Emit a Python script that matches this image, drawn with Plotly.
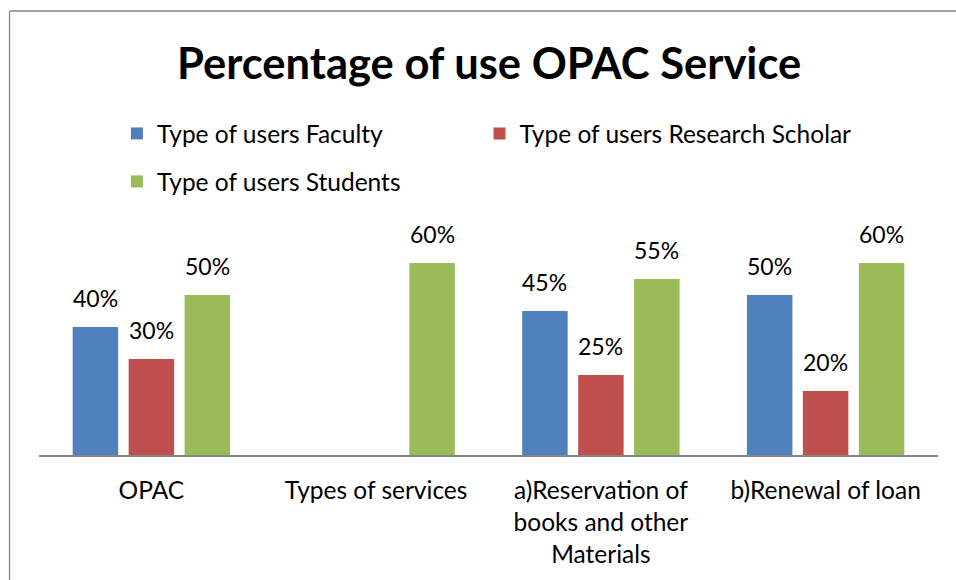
import plotly.graph_objects as go

# Chart data
categories = ["OPAC", "Types of services", "a)Reservation of<br>books and other<br>Materials", "b)Renewal of loan"]
faculty = [40, None, 45, 50]
research_scholar = [30, None, 25, 20]
students = [50, 60, 55, 60]

series_names = ["Type of users Faculty", "Type of users Research Scholar", "Type of users Students"]
colors = ["#4F81BD", "#C0504D", "#9BBB59"]
legend_ids = ["legend", "legend3", "legend2"]

FONT = "Lato"
W, H = 956, 580
ML, MR, MT, MB = 38.5, 17.5, 231, 125
plot_w = W - ML - MR
plot_h = H - MT - MB
BARGAP = 0.253

fig = go.Figure()
all_series = [faculty, research_scholar, students]
for name, vals, col, lg in zip(series_names, all_series, colors, legend_ids):
    fig.add_trace(go.Bar(
        x=categories, y=vals, name=name, marker_color=col,
        marker_line_width=0, legend=lg,
    ))

# value labels above each bar
cat_w = plot_w / len(categories)
slot = cat_w * (1 - BARGAP) / 3
annotations = []
for i, vals in enumerate(all_series):
    offset = (i - 1) * slot
    for cat, v in zip(categories, vals):
        if v is None:
            continue
        annotations.append(dict(
            x=cat, y=v, xref="x", yref="y", text=f"{v}%", showarrow=False,
            xshift=offset, yshift=13, yanchor="bottom",
            font=dict(family=FONT, size=23, color="#000000"),
        ))

# title
annotations.append(dict(
    x=0.5, y=1 + (MT - 62) / plot_h, xref="paper", yref="paper",
    text="<b>Percentage of use OPAC Service</b>", showarrow=False,
    xanchor="center", yanchor="middle",
    font=dict(family=FONT, size=43.5, color="#000000"),
))

def px_x(p):
    return (p - ML) / plot_w

def px_y(p):
    return 1 + (MT - p) / plot_h

shapes = [
    # outer chart border (top and left edges)
    dict(type="line", xref="paper", yref="paper", x0=px_x(9), x1=px_x(W + 20),
         y0=px_y(11), y1=px_y(11), line=dict(color="#868686", width=1.3)),
    dict(type="line", xref="paper", yref="paper", x0=px_x(9), x1=px_x(9),
         y0=px_y(11), y1=px_y(H + 20), line=dict(color="#868686", width=1.3)),
]

legend_style = dict(
    orientation="h", xanchor="left", yanchor="top",
    font=dict(family=FONT, size=24.5), bgcolor="rgba(0,0,0,0)",
)

fig.update_layout(
    width=W, height=H,
    margin=dict(l=ML, r=MR, t=MT, b=MB, pad=0),
    paper_bgcolor="#FFFFFF", plot_bgcolor="#FFFFFF",
    barmode="group", bargap=BARGAP, bargroupgap=0.1875,
    font=dict(family=FONT, size=24.5, color="#000000"),
    showlegend=True,
    legend=dict(x=px_x(116.5), y=px_y(111), **legend_style),
    legend3=dict(x=px_x(479.5), y=px_y(111), **legend_style),
    legend2=dict(x=px_x(116.5), y=px_y(159), **legend_style),
    xaxis=dict(
        type="category", showgrid=False, showline=True, linecolor="#868686", linewidth=1.5,
        ticks="", ticklabelstandoff=13, tickfont=dict(family=FONT, size=24.5),
        zeroline=False,
    ),
    yaxis=dict(range=[0, 70], visible=False, showgrid=False, zeroline=False),
    annotations=annotations,
    shapes=shapes,
)

fig.write_html("out.html")
